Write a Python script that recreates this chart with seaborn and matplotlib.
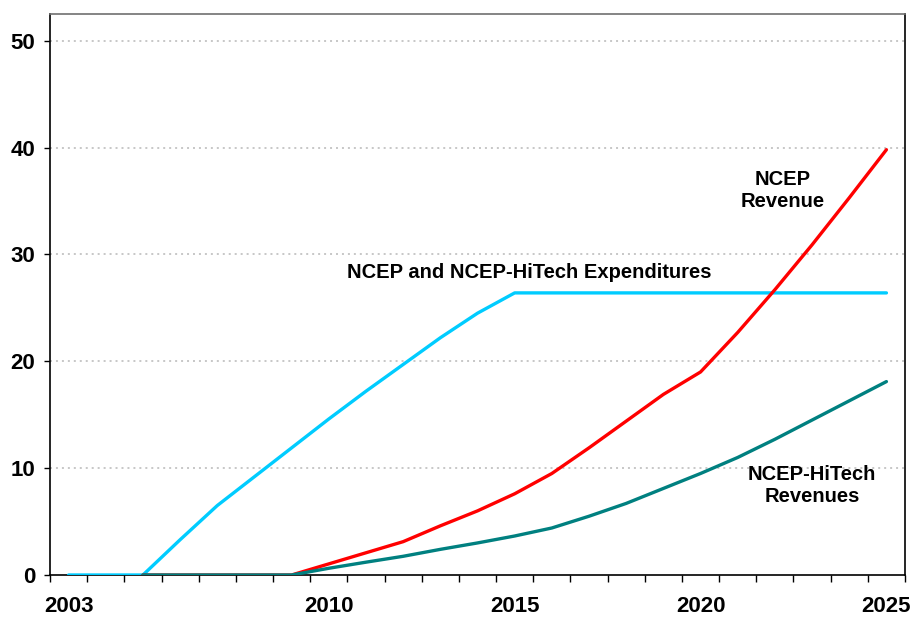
import matplotlib
matplotlib.use("Agg")
import matplotlib.pyplot as plt
import seaborn as sns
import numpy as np
import pandas as pd

years = [2003, 2004, 2005, 2006, 2007, 2008, 2009, 2010, 2011, 2012, 2013, 2014,
         2015, 2016, 2017, 2018, 2019, 2020, 2021, 2022, 2023, 2024, 2025]
expenditures = [0, 0, 0, 3.3, 6.5, 9.2, 11.9, 14.6, 17.2, 19.7, 22.2, 24.5,
                26.4, 26.4, 26.4, 26.4, 26.4, 26.4, 26.4, 26.4, 26.4, 26.4, 26.4]
ncep_revenue = [np.nan, np.nan, 0, 0, 0, 0, 0, 1.04, 2.08, 3.12, 4.6, 6.0,
                7.6, 9.5, 11.9, 14.4, 16.9, 19.0, 22.7, 26.7, 30.9, 35.3, 39.8]
hitech_revenue = [np.nan, np.nan, 0, 0, 0, 0, 0, 0.63, 1.2, 1.75, 2.4, 3.0,
                  3.65, 4.4, 5.5, 6.7, 8.1, 9.5, 11.0, 12.7, 14.5, 16.3, 18.1]
year_labels = [2003, 2010, 2015, 2020, 2025]
y_ticks = [0, 10, 20, 30, 40, 50]

df = pd.DataFrame({"year": years, "exp": expenditures,
                   "ncep": ncep_revenue, "hitech": hitech_revenue})

sns.set_theme(style="white")
plt.rcParams["font.family"] = ["Liberation Sans", "DejaVu Sans"]
plt.rcParams["text.color"] = "black"
plt.rcParams["xtick.color"] = "black"
plt.rcParams["ytick.color"] = "black"
plt.rcParams["xtick.labelcolor"] = "black"
plt.rcParams["ytick.labelcolor"] = "black"

fig = plt.figure(figsize=(9.11, 6.19), dpi=100)
ax = fig.add_axes([50 / 911, 44 / 619, 855 / 911, 561 / 619])

sns.lineplot(data=df, x="year", y="exp", ax=ax, color="#00CCFF", lw=2.4, zorder=3)
sns.lineplot(data=df, x="year", y="ncep", ax=ax, color="#FF0000", lw=2.4, zorder=4)
sns.lineplot(data=df, x="year", y="hitech", ax=ax, color="#008080", lw=2.4, zorder=5)

ax.set_xlim(years[0] - 0.5, years[-1] + 0.5)
ax.set_ylim(0, 52.5)

# y axis
ax.set_yticks(y_ticks)
ax.set_yticklabels([str(v) for v in y_ticks], fontsize=16, fontweight="bold")
ax.tick_params(axis="y", which="major", direction="out", length=4.5, width=1,
               color="black", pad=6, left=True)
for v in y_ticks[1:]:
    ax.axhline(v, color="#b8b8b8", lw=1.1, ls=(0, (1.3, 2.6)), zorder=1)

# x axis
bounds = [y - 0.5 for y in years] + [years[-1] + 0.5]
ax.set_xticks(bounds, minor=True)
ax.set_xticks(year_labels)
ax.set_xticklabels([str(v) for v in year_labels], fontsize=16, fontweight="bold")
ax.tick_params(axis="x", which="major", length=0, pad=15)
ax.tick_params(axis="x", which="minor", direction="out", length=5, width=1,
               color="black", bottom=True)
ax.set_xlabel("")
ax.set_ylabel("")

for side in ["left", "right", "bottom"]:
    ax.spines[side].set_color("black")
    ax.spines[side].set_linewidth(1.2)
ax.spines["top"].set_color("#707070")
ax.spines["top"].set_linewidth(1.2)

# annotations
ax.text(2015.4, 28.3, "NCEP and NCEP-HiTech Expenditures", fontsize=14.5,
        fontweight="bold", ha="center", va="center", color="black")
ax.text(2022.2, 36.0, "NCEP\nRevenue", fontsize=14.5, fontweight="bold",
        ha="center", va="center", linespacing=1.2, color="black")
ax.text(2023.0, 8.4, "NCEP-HiTech\nRevenues", fontsize=14.5, fontweight="bold",
        ha="center", va="center", linespacing=1.2, color="black")

fig.savefig("out.png", dpi=100)
